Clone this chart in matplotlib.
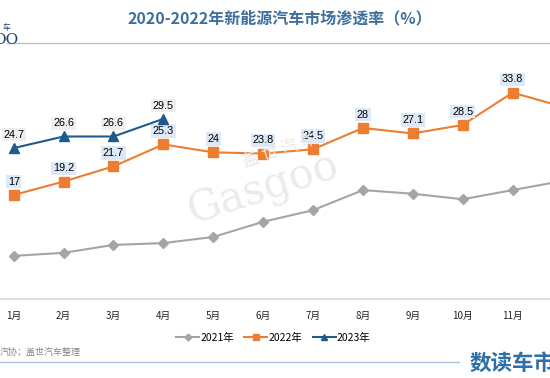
import matplotlib
matplotlib.use("Agg")
import matplotlib.pyplot as plt
import numpy as np

plt.rcParams['font.family'] = ['Noto Sans CJK SC', 'DejaVu Sans']

months = ['1月', '2月', '3月', '4月', '5月', '6月', '7月', '8月', '9月', '10月', '11月', '12月']
y2021 = [7.0, 7.5, 8.8, 9.1, 10.1, 12.6, 14.5, 17.8, 17.2, 16.3, 17.8, 19.3]
y2022 = [17, 19.2, 21.7, 25.3, 24, 23.8, 24.5, 28, 27.1, 28.5, 33.8, 31.5]
y2023 = [24.7, 26.6, 26.6, 29.5]

c21 = '#a5a5a5'
c22 = '#ed7d31'
c23 = '#1f5a8c'

fig = plt.figure(figsize=(5.5, 3.78), dpi=100)
ax = fig.add_axes([0, 0.2103, 1, 0.6445])
x = np.arange(len(months))

# watermark
fig.text(0.48, 0.50, 'Gasgoo', fontsize=30, color='#ebebeb', rotation=18,
         ha='center', va='center', family='DejaVu Serif', zorder=0)
fig.text(0.51, 0.60, '盖 世 汽 车', fontsize=12, color='#e8e8e8', rotation=18,
         ha='center', va='center', zorder=0)

ax.plot(x, y2021, color=c21, marker='D', markersize=5, linewidth=1.5, label='2021年', zorder=3)
ax.plot(x, y2022, color=c22, marker='s', markersize=7, linewidth=1.5, label='2022年', zorder=4)
ax.plot(x[:len(y2023)], y2023, color=c23, marker='^', markersize=7, linewidth=1.5, label='2023年', zorder=8)

for i, v in enumerate(y2022):
    ax.annotate(f'{v:g}', (i, v), xytext=(0, 6), textcoords='offset points',
                ha='center', va='bottom', fontsize=7.8, family='Liberation Sans',
                bbox=dict(boxstyle='square,pad=0.15', fc='#dde9f8', ec='none'), zorder=6)
for i, v in enumerate(y2023):
    ax.annotate(f'{v:g}', (i, v), xytext=(0, 6), textcoords='offset points',
                ha='center', va='bottom', fontsize=7.8, family='Liberation Sans',
                bbox=dict(boxstyle='square,pad=0.15', fc='#efefef', ec='none'), zorder=6)

ax.set_xticks(x)
ax.set_xticklabels(months, fontsize=7, color='#222222')
ax.set_xlim(-0.275, 10.75)
ax.set_ylim(0, 40)
ax.tick_params(axis='x', length=0, pad=9)
ax.set_yticks([])
for s in ['top', 'right', 'left']:
    ax.spines[s].set_visible(False)
ax.spines['bottom'].set_color('#d9d9d9')
ax.spines['bottom'].set_linewidth(1.2)
ax.patch.set_alpha(0)

leg = fig.legend(loc='center', bbox_to_anchor=(0.497, 0.106), ncol=3, frameon=False,
                 fontsize=7.5, handlelength=2.2, columnspacing=1.0, handletextpad=0.1,
                 markerscale=0.7)

fig.text(0.508, 0.952, '2020-2022年新能源汽车市场渗透率（%）', fontsize=11.5, fontweight='bold',
         color='#3e6f9c', ha='center', va='center')
fig.lines.append(plt.Line2D([7 / 550, 1], [1 - 42.7 / 378] * 2, transform=fig.transFigure,
                            color='#a9c4dc', linewidth=1))
fig.text(0.004, 0.925, '车', fontsize=5.5, color='#1f3f6e', ha='left', va='center')
fig.text(-0.012, 0.895, 'OO', fontsize=11, color='#1f3f6e', ha='left', va='center',
         family='DejaVu Serif')

fig.text(0.0, 0.068, '汽协；盖世汽车整理', fontsize=6.5, color='#888888', ha='left', va='center')
fig.lines.append(plt.Line2D([0, 0.835], [1 - 362 / 378] * 2, transform=fig.transFigure,
                            color='#a9c4dc', linewidth=1))
fig.text(0.853, 0.04, '数读车市', fontsize=15.5, fontweight='bold', color='#2e6fa8',
         ha='left', va='center')

fig.savefig('out.png', dpi=100)
